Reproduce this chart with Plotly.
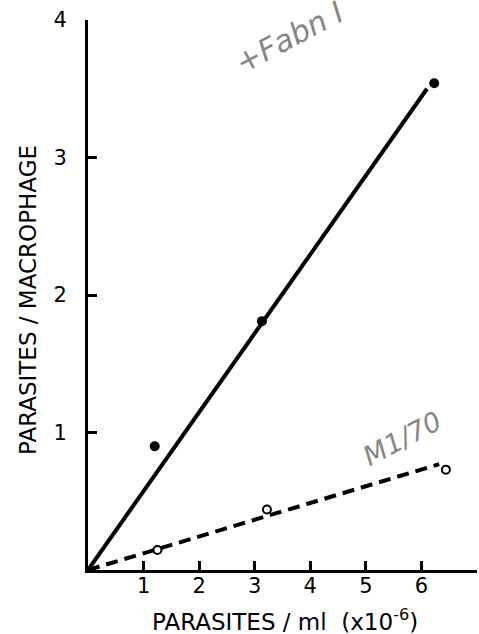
import plotly.graph_objects as go

# Data
treated_x = [1.2, 3.13, 6.23]
treated_y = [0.9, 1.81, 3.54]
control_x = [1.25, 3.22, 6.44]
control_y = [0.145, 0.44, 0.73]

treated_fit_x = [0, 6.1]
treated_fit_y = [0, 3.5]
control_fit_x = [0, 6.32]
control_fit_y = [0, 0.77]

x_ticks = [1, 2, 3, 4, 5, 6, 7]
y_ticks = [1, 2, 3, 4]

font_family = "DejaVu Sans, Liberation Sans, sans-serif"
hand_font = "DejaVu Sans, sans-serif"

fig = go.Figure()
fig.add_trace(go.Scatter(x=treated_fit_x, y=treated_fit_y, mode="lines",
                         line=dict(color="black", width=4), showlegend=False,
                         cliponaxis=False))
fig.add_trace(go.Scatter(x=control_fit_x, y=control_fit_y, mode="lines",
                         line=dict(color="black", width=4, dash="12px,7px"),
                         showlegend=False, cliponaxis=False))
fig.add_trace(go.Scatter(x=treated_x, y=treated_y, mode="markers",
                         marker=dict(color="black", size=10),
                         showlegend=False, cliponaxis=False))
fig.add_trace(go.Scatter(x=control_x, y=control_y, mode="markers",
                         marker=dict(color="white", size=8, symbol="circle",
                                     line=dict(color="black", width=2)),
                         showlegend=False, cliponaxis=False))

# handwritten notes
fig.add_annotation(x=3.62, y=3.87, xref="x", yref="y",
                   text="<i>+Fabn I</i>", showarrow=False, textangle=-28,
                   font=dict(family=hand_font, size=30, color="#858585"),
                   xanchor="center", yanchor="middle")
fig.add_annotation(x=5.65, y=0.96, xref="x", yref="y",
                   text="<i>M1/70</i>", showarrow=False, textangle=-28,
                   font=dict(family=hand_font, size=27, color="#858585"),
                   xanchor="center", yanchor="middle")

# axis titles (pixel positions, converted below)
fig.add_annotation(x=285, y=634 - 620, xref="paper", yref="paper",
                   text="PARASITES / ml  (x10<sup>-6</sup>)", showarrow=False,
                   font=dict(family=font_family, size=23, color="black"),
                   xanchor="center", yanchor="middle")
fig.add_annotation(x=28, y=634 - 300, xref="paper", yref="paper",
                   text="PARASITES / MACROPHAGE", showarrow=False, textangle=-90,
                   font=dict(family=font_family, size=23, color="black"),
                   xanchor="center", yanchor="middle")

axis_common = dict(showgrid=False, zeroline=False, showline=True,
                   linecolor="black", linewidth=3, ticks="inside",
                   ticklen=9, tickwidth=3, tickcolor="black", automargin=False,
                   tickfont=dict(family=font_family, size=21, color="black"))

fig.update_xaxes(range=[0, 7], tickvals=x_ticks,
                 ticktext=[str(v) for v in x_ticks],
                 ticklabelstandoff=-5, **axis_common)
fig.update_yaxes(range=[0, 4], tickvals=y_ticks,
                 ticktext=[str(v) for v in y_ticks],
                 ticklabelstandoff=14, **axis_common)

L, R, T, B = 88, 2, 20, 64
fig.update_layout(width=479, height=634,
                  margin=dict(l=L, r=R, t=T, b=B),
                  plot_bgcolor="white", paper_bgcolor="white")

# convert pixel-positioned annotations to paper coordinates
pw = 479 - L - R
ph = 634 - T - B
for ann in fig.layout.annotations:
    if ann.xref == "paper":
        ann.x = (ann.x - L) / pw
        ann.y = (ann.y - B) / ph

fig.write_html("out.html", config={"displayModeBar": False},
               post_script="document.body.style.margin='0';document.body.style.overflow='hidden';")
